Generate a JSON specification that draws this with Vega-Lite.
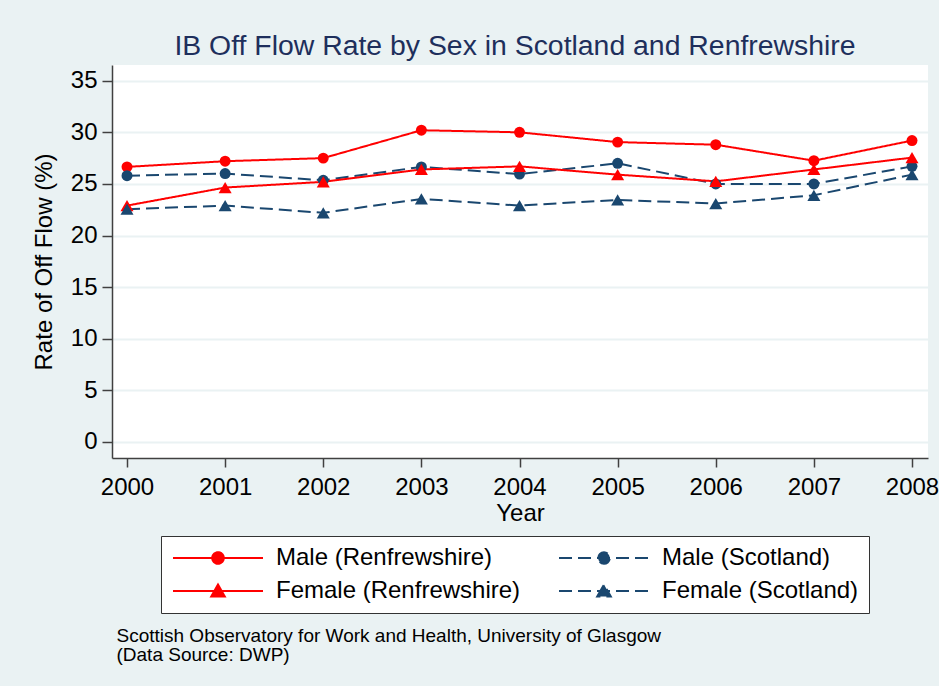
{
  "$schema": "https://vega.github.io/schema/vega-lite/v6.json",
  "width": 816,
  "height": 393,
  "autosize": {"type": "none"},
  "padding": {"left": 112, "top": 65, "right": 11, "bottom": 228},
  "background": "#EAF2F3",
  "title": {
    "text": "IB Off Flow Rate by Sex in Scotland and Renfrewshire",
    "anchor": "middle",
    "frame": "group",
    "font": "Liberation Sans",
    "fontSize": 28.4,
    "fontWeight": "normal",
    "color": "#1E2F5C",
    "baseline": "alphabetic",
    "offset": 10,
    "dx": -5,
    "dy": 28
  },
  "config": {
    "view": {"fill": "white", "stroke": null},
    "font": "Liberation Sans",
    "legend": {
      "title": null,
      "orient": "none",
      "direction": "horizontal",
      "legendX": 49,
      "legendY": 471,
      "columns": 2,
      "symbolSize": 400,
      "symbolStrokeWidth": 2,
      "symbolOffset": 35,
      "symbolOpacity": 1,
      "labelFontSize": 24,
      "labelColor": "black",
      "labelOffset": 46,
      "labelLimit": 400,
      "padding": 10,
      "rowPadding": 9,
      "columnPadding": 34,
      "strokeColor": "#333333",
      "fillColor": "white"
    }
  },
  "data": {
    "values": [
      {"year": 2000, "rate": 26.65, "series": "Male (Renfrewshire)"},
      {"year": 2001, "rate": 27.2, "series": "Male (Renfrewshire)"},
      {"year": 2002, "rate": 27.5, "series": "Male (Renfrewshire)"},
      {"year": 2003, "rate": 30.2, "series": "Male (Renfrewshire)"},
      {"year": 2004, "rate": 30.0, "series": "Male (Renfrewshire)"},
      {"year": 2005, "rate": 29.05, "series": "Male (Renfrewshire)"},
      {"year": 2006, "rate": 28.8, "series": "Male (Renfrewshire)"},
      {"year": 2007, "rate": 27.25, "series": "Male (Renfrewshire)"},
      {"year": 2008, "rate": 29.2, "series": "Male (Renfrewshire)"},
      {"year": 2000, "rate": 25.8, "series": "Male (Scotland)"},
      {"year": 2001, "rate": 26.0, "series": "Male (Scotland)"},
      {"year": 2002, "rate": 25.35, "series": "Male (Scotland)"},
      {"year": 2003, "rate": 26.65, "series": "Male (Scotland)"},
      {"year": 2004, "rate": 25.95, "series": "Male (Scotland)"},
      {"year": 2005, "rate": 27.0, "series": "Male (Scotland)"},
      {"year": 2006, "rate": 25.0, "series": "Male (Scotland)"},
      {"year": 2007, "rate": 25.0, "series": "Male (Scotland)"},
      {"year": 2008, "rate": 26.7, "series": "Male (Scotland)"},
      {"year": 2000, "rate": 22.9, "series": "Female (Renfrewshire)"},
      {"year": 2001, "rate": 24.65, "series": "Female (Renfrewshire)"},
      {"year": 2002, "rate": 25.2, "series": "Female (Renfrewshire)"},
      {"year": 2003, "rate": 26.4, "series": "Female (Renfrewshire)"},
      {"year": 2004, "rate": 26.7, "series": "Female (Renfrewshire)"},
      {"year": 2005, "rate": 25.9, "series": "Female (Renfrewshire)"},
      {"year": 2006, "rate": 25.25, "series": "Female (Renfrewshire)"},
      {"year": 2007, "rate": 26.4, "series": "Female (Renfrewshire)"},
      {"year": 2008, "rate": 27.55, "series": "Female (Renfrewshire)"},
      {"year": 2000, "rate": 22.55, "series": "Female (Scotland)"},
      {"year": 2001, "rate": 22.9, "series": "Female (Scotland)"},
      {"year": 2002, "rate": 22.2, "series": "Female (Scotland)"},
      {"year": 2003, "rate": 23.55, "series": "Female (Scotland)"},
      {"year": 2004, "rate": 22.9, "series": "Female (Scotland)"},
      {"year": 2005, "rate": 23.45, "series": "Female (Scotland)"},
      {"year": 2006, "rate": 23.1, "series": "Female (Scotland)"},
      {"year": 2007, "rate": 23.9, "series": "Female (Scotland)"},
      {"year": 2008, "rate": 25.9, "series": "Female (Scotland)"}
    ]
  },
  "encoding": {
    "y": {
      "field": "rate",
      "type": "quantitative",
      "scale": {"domain": [-1.55, 36.52], "nice": false, "zero": false},
      "axis": {
        "title": "Rate of Off Flow (%)",
        "values": [0, 5, 10, 15, 20, 25, 30, 35],
        "grid": true,
        "gridColor": "#EAF2F3",
        "gridWidth": 2,
        "tickSize": 10,
        "tickColor": "#404040",
        "tickWidth": 1.5,
        "domainColor": "#404040",
        "domainWidth": 1.5,
        "labelFontSize": 24,
        "labelColor": "black",
        "labelPadding": 5,
        "titleFontSize": 24,
        "titleFontWeight": "normal",
        "titleColor": "black",
        "titlePadding": 14
      }
    },
    "color": {
      "field": "series",
      "type": "nominal",
      "scale": {
        "domain": ["Male (Renfrewshire)", "Male (Scotland)", "Female (Renfrewshire)", "Female (Scotland)"],
        "range": ["#FF0000", "#1A476F", "#FF0000", "#1A476F"]
      }
    }
  },
  "layer": [
    {
      "transform": [{"filter": {"field": "series", "equal": "none"}}],
      "mark": {"type": "point", "filled": true},
      "encoding": {
        "x": {"field": "year", "type": "quantitative", "axis": null},
        "shape": {
          "field": "series",
          "type": "nominal",
          "scale": {
            "domain": ["Male (Renfrewshire)", "Male (Scotland)", "Female (Renfrewshire)", "Female (Scotland)"],
            "range": [
              "M-4.5,0H4.5M-0.58,0A0.58,0.58,0,1,1,0.58,0A0.58,0.58,0,1,1,-0.58,0Z",
              "M-4.5,0H4.5M-0.58,0A0.58,0.58,0,1,1,0.58,0A0.58,0.58,0,1,1,-0.58,0Z",
              "M-4.5,0H4.5M-0.68,0.55L0,-0.65L0.68,0.55Z",
              "M-4.5,0H4.5M-0.68,0.55L0,-0.65L0.68,0.55Z"
            ]
          }
        }
      }
    },
    {
      "mark": {"type": "line", "strokeWidth": 2},
      "encoding": {
        "x": {
          "field": "year",
          "type": "quantitative",
          "scale": {"domain": [1999.847, 2008.163], "nice": false, "zero": false},
          "axis": {
            "title": "Year",
            "values": [2000, 2001, 2002, 2003, 2004, 2005, 2006, 2007, 2008],
            "format": "d",
            "grid": false,
            "tickSize": 9,
            "tickColor": "#404040",
            "tickWidth": 1.5,
            "domainColor": "#404040",
            "domainWidth": 1.5,
            "labelFontSize": 24,
            "labelColor": "black",
            "labelPadding": 8,
            "labelFlush": false,
            "titleFontSize": 24,
            "titleFontWeight": "normal",
            "titleColor": "black",
            "titlePadding": 2
          }
        },
        "strokeDash": {
          "field": "series",
          "type": "nominal",
          "scale": {
            "domain": ["Male (Renfrewshire)", "Male (Scotland)", "Female (Renfrewshire)", "Female (Scotland)"],
            "range": [[1, 0], [13, 6], [1, 0], [13, 6]]
          }
        }
      }
    },
    {
      "transform": [{"filter": {"field": "series", "oneOf": ["Male (Renfrewshire)", "Male (Scotland)"]}}],
      "mark": {"type": "point", "shape": "circle", "size": 120, "filled": true, "opacity": 1},
      "encoding": {
        "x": {
          "field": "year",
          "type": "quantitative",
          "axis": {
            "title": ["Scottish Observatory for Work and Health, University of Glasgow", "(Data Source: DWP)"],
            "orient": "bottom",
            "domain": false,
            "ticks": false,
            "labels": false,
            "grid": false,
            "titleFontSize": 19,
            "titleFontWeight": "normal",
            "titleColor": "black",
            "titleAlign": "left",
            "titleAnchor": "start",
            "titleX": 4,
            "titleY": 183,
            "titleBaseline": "alphabetic",
            "titleLineHeight": 19
          }
        }
      }
    },
    {
      "transform": [{"filter": {"field": "series", "oneOf": ["Female (Renfrewshire)", "Female (Scotland)"]}}],
      "mark": {"type": "point", "shape": "triangle-up", "size": 170, "filled": true, "opacity": 1},
      "encoding": {
        "x": {"field": "year", "type": "quantitative", "axis": null}
      }
    }
  ],
  "resolve": {"axis": {"x": "independent"}}
}
